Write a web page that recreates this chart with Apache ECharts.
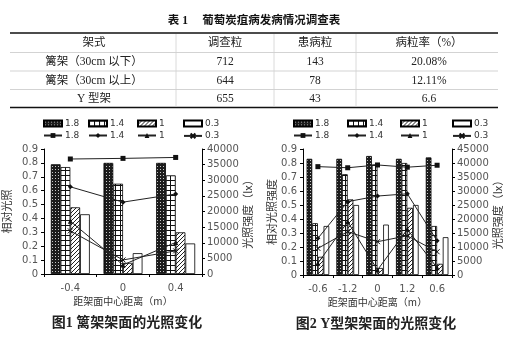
<!DOCTYPE html>
<html>
<head>
<meta charset="utf-8">
<script src="https://cdn.jsdelivr.net/npm/echarts@6/dist/echarts.min.js"></script>
<style>
  html, body { margin: 0; padding: 0; background: #fff; }
  #main { width: 508px; height: 343px; }
</style>
</head>
<body>
<div id="main"></div>
<script>
// 表1 数据
var tableTitle = '表 1　 葡萄炭疽病发病情况调查表';
var tableHeader = ['架式', '调查粒', '患病粒', '病粒率（%）'];
var tableRows = [
    ['篱架（30cm 以下）', '712', '143', '20.08%'],
    ['篱架（30cm 以上）', '644', '78', '12.11%'],
    ['Y 型架', '655', '43', '6.6']
];

// 图1 篱架架面
var chart1Cats = ['-0.4', '0', '0.4'];
var chart1Bar18 = [0.79, 0.80, 0.80];
var chart1Bar14 = [0.77, 0.65, 0.71];
var chart1Bar10 = [0.48, 0.08, 0.30];
var chart1Bar03 = [0.43, 0.15, 0.22];
var chart1Line18 = [36800, 37000, 37300];
var chart1Line14 = [27900, 23000, 25600];
var chart1Line10 = [16900, 2900, 10100];
var chart1Line03 = [13800, 4500, 7400];

// 图2 Y型架架面
var chart2Cats = ['-0.6', '-1.2', '0', '1.2', '0.6'];
var chart2Bar18 = [0.83, 0.83, 0.85, 0.83, 0.84];
var chart2Bar14 = [0.37, 0.72, 0.79, 0.80, 0.35];
var chart2Bar10 = [0.13, 0.54, 0.05, 0.48, 0.08];
var chart2Bar03 = [0.35, 0.50, 0.36, 0.50, 0.27];
var chart2Line18 = [38700, 38300, 39300, 38500, 39200];
var chart2Line14 = [13100, 26200, 28200, 29000, 12200];
var chart2Line10 = [4200, 19000, 1800, 16300, 2600];
var chart2Line03 = [9500, 15500, 11900, 14000, 8300];

var legendNames = ['1.8', '1.4', '1', '0.3'];

var serifFont = '"Liberation Serif", "Noto Sans CJK SC", serif';
var axisFont = 'DejaVu Sans';

function makePattern(w, h, bg, fg, pixels) {
    var c = document.createElement('canvas');
    c.width = w;
    c.height = h;
    var ctx = c.getContext('2d');
    ctx.fillStyle = bg;
    ctx.fillRect(0, 0, w, h);
    ctx.fillStyle = fg;
    pixels.forEach(function (p) { ctx.fillRect(p[0], p[1], 1, 1); });
    return { image: c, repeat: 'repeat' };
}

var patDark = makePattern(3, 3, '#1c1c1c', '#c8c8c8', [[1, 1]]);
var patGrid = makePattern(5, 5, '#fff', '#111', [[0, 0], [1, 0], [2, 0], [3, 0], [4, 0], [0, 1], [0, 2], [0, 3], [0, 4]]);
var patHatch = makePattern(4, 4, '#fff', '#222', [[0, 3], [1, 2], [2, 1], [3, 0]]);
var barFills = [patDark, patGrid, patHatch, '#fff'];

var lineSymbols = ['rect', 'diamond', 'triangle', 'path://M0,0L10,10M10,0L0,10'];
var lineSymbolSizes = [5, 5, 5, 5];

function barSeries(prefix, idx, data, gi, gap) {
    return {
        name: prefix + 'b|' + legendNames[idx],
        type: 'bar',
        xAxisIndex: gi,
        yAxisIndex: gi * 2,
        data: data,
        barGap: '0%',
        barCategoryGap: gap,
        itemStyle: { color: barFills[idx], borderColor: '#000', borderWidth: 0.8 }
    };
}

function lineSeries(prefix, idx, data, gi) {
    var isCross = idx === 3;
    return {
        name: prefix + 'l|' + legendNames[idx],
        type: 'line',
        xAxisIndex: gi,
        yAxisIndex: gi * 2 + 1,
        data: data,
        symbol: lineSymbols[idx],
        symbolSize: lineSymbolSizes[idx],
        lineStyle: { color: '#222', width: 1 },
        itemStyle: isCross ? { color: 'none', borderColor: '#111', borderWidth: 1 } : { color: '#111' },
        z: 5
    };
}

function makeLegends(prefix, xs) {
    var out = [];
    legendNames.forEach(function (n, i) {
        [['b', 119], ['l', 131]].forEach(function (row) {
            var leg = {
                data: [prefix + row[0] + '|' + n],
                left: xs[i],
                top: row[1],
                padding: 0,
                itemWidth: 18,
                itemHeight: 6,
                itemGap: 0,
                selectedMode: false,
                formatter: function (name) { return name.split('|')[1]; },
                textStyle: { fontSize: 9, fontFamily: axisFont, color: '#333', padding: [0, 0, 0, -2] }
            };
            if (row[0] === 'b') leg.icon = 'rect';
            out.push(leg);
        });
    });
    return out;
}

function valueAxis(max, interval, pos, name, gap, gi, isLeft) {
    return {
        type: 'value',
        gridIndex: gi,
        position: pos,
        min: 0,
        max: max,
        interval: interval,
        name: name,
        nameLocation: 'middle',
        nameRotate: 90,
        nameGap: gap,
        nameTextStyle: { fontSize: 11, fontFamily: 'Noto Sans CJK SC', color: '#333' },
        axisLine: { show: true, lineStyle: { color: '#000', width: 1 } },
        axisTick: { show: true, length: 3, lineStyle: { color: '#000' } },
        splitLine: { show: false },
        axisLabel: {
            fontSize: 10, fontFamily: axisFont, color: '#555', margin: isLeft ? 6 : 5,
            formatter: function (v) {
                if (v === 0) return '0';
                return isLeft ? v.toFixed(1) : String(Math.round(v));
            }
        }
    };
}

function catAxis(cats, gi) {
    return {
        type: 'category',
        gridIndex: gi,
        data: cats,
        name: '距架面中心距离（m）',
        nameLocation: 'middle',
        nameGap: 22,
        nameTextStyle: { fontSize: 10, fontFamily: 'Noto Sans CJK SC', color: '#333' },
        axisLine: { lineStyle: { color: '#000', width: 1 } },
        axisTick: { show: true, length: 3, lineStyle: { color: '#000' } },
        axisLabel: { fontSize: 10, fontFamily: axisFont, color: '#555', margin: 9 }
    };
}

// 表格和图题
var graphics = [];
graphics.push({
    type: 'text', x: 254, y: 21,
    style: { text: tableTitle, font: 'bold 11.5px ' + serifFont, fill: '#111', textAlign: 'center', textVerticalAlign: 'middle', verticalAlign: 'middle' }
});
var tableLeft = 10, tableRight = 498;
var rowLines = [33, 52.5, 71, 89.5, 107.5];
var colLines = [176, 274, 356];
var colCenters = [94, 225, 315, 429];
var rowCenters = [43, 62, 80.5, 98.5];
rowLines.forEach(function (y, i) {
    var thick = i === 0 || i === rowLines.length - 1;
    graphics.push({
        type: 'line',
        shape: { x1: tableLeft, y1: y, x2: tableRight, y2: y },
        style: { stroke: thick ? '#111' : '#c8c8c8', lineWidth: thick ? 1.6 : 0.8 }
    });
});
colLines.forEach(function (x) {
    graphics.push({
        type: 'line',
        shape: { x1: x, y1: rowLines[0] + 1, x2: x, y2: rowLines[rowLines.length - 1] - 1 },
        style: { stroke: '#d0d0d0', lineWidth: 0.8 }
    });
});
[tableHeader].concat(tableRows).forEach(function (row, r) {
    row.forEach(function (cell, c) {
        graphics.push({
            type: 'text', x: colCenters[c], y: rowCenters[r],
            style: { text: cell, font: '11.5px ' + serifFont, fill: '#222', textAlign: 'center', textVerticalAlign: 'middle', verticalAlign: 'middle' }
        });
    });
});
graphics.push({
    type: 'text', x: 127, y: 323,
    style: { text: '图1 篱架架面的光照变化', font: 'bold 14px ' + serifFont, fill: '#222', textAlign: 'center', textVerticalAlign: 'middle', verticalAlign: 'middle' }
});
graphics.push({
    type: 'text', x: 376, y: 324,
    style: { text: '图2 Y型架架面的光照变化', font: 'bold 14px ' + serifFont, fill: '#222', textAlign: 'center', textVerticalAlign: 'middle', verticalAlign: 'middle' }
});

var myChart = echarts.init(document.getElementById('main'));
myChart.setOption({
    animation: false,
    backgroundColor: '#fff',
    grid: [
        { left: 44, top: 149, width: 158, height: 125 },
        { left: 303, top: 149, width: 149, height: 126 }
    ],
    legend: makeLegends('a', [43, 88, 137, 183]).concat(makeLegends('c', [293, 347, 400, 452])),
    xAxis: [catAxis(chart1Cats, 0), catAxis(chart2Cats, 1)],
    yAxis: [
        valueAxis(0.9, 0.1, 'left', '相对光照', 32, 0, true),
        valueAxis(40000, 5000, 'right', '光照强度（lx）', 31, 0, false),
        valueAxis(0.9, 0.1, 'left', '相对光照强度', 22, 1, true),
        valueAxis(45000, 5000, 'right', '光照强度（lx）', 34, 1, false)
    ],
    graphic: graphics,
    series: [
        barSeries('a', 0, chart1Bar18, 0, '26%'),
        barSeries('a', 1, chart1Bar14, 0, '26%'),
        barSeries('a', 2, chart1Bar10, 0, '26%'),
        barSeries('a', 3, chart1Bar03, 0, '26%'),
        lineSeries('a', 0, chart1Line18, 0),
        lineSeries('a', 1, chart1Line14, 0),
        lineSeries('a', 2, chart1Line10, 0),
        lineSeries('a', 3, chart1Line03, 0),
        barSeries('c', 0, chart2Bar18, 1, '24%'),
        barSeries('c', 1, chart2Bar14, 1, '24%'),
        barSeries('c', 2, chart2Bar10, 1, '24%'),
        barSeries('c', 3, chart2Bar03, 1, '24%'),
        lineSeries('c', 0, chart2Line18, 1),
        lineSeries('c', 1, chart2Line14, 1),
        lineSeries('c', 2, chart2Line10, 1),
        lineSeries('c', 3, chart2Line03, 1)
    ]
});
</script>
</body>
</html>
